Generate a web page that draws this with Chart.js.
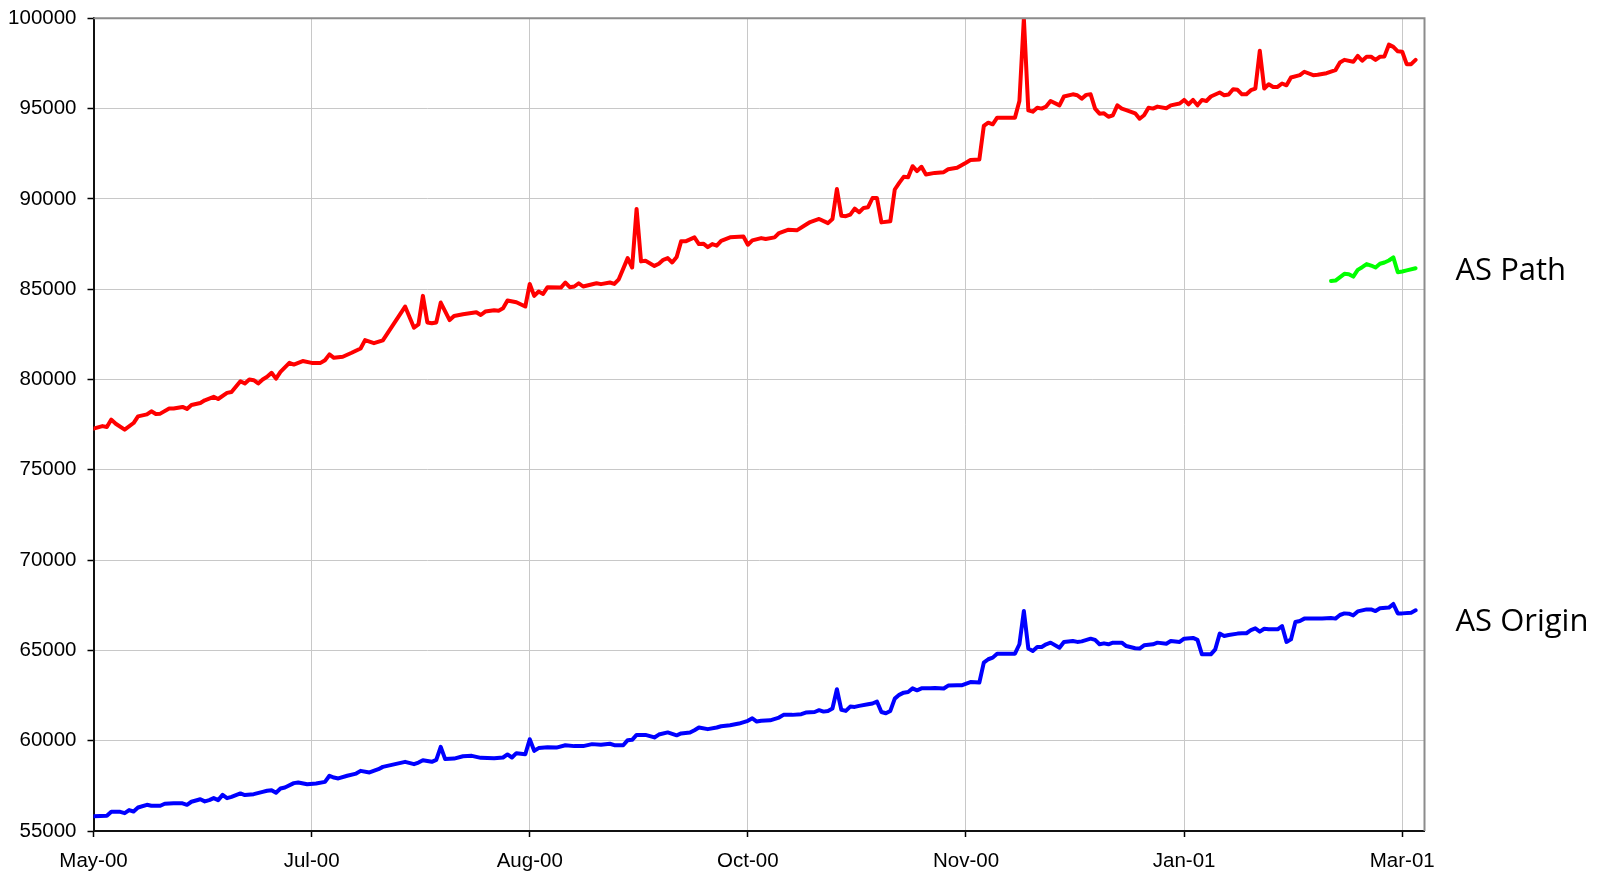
<!DOCTYPE html>
<html>
<head>
<meta charset="utf-8">
<title>AS Path / AS Origin</title>
<script src="https://cdn.jsdelivr.net/npm/chart.js@4.4.1/dist/chart.umd.min.js"></script>
<style>
  html, body { margin: 0; padding: 0; background: #fff; }
  #chart { display: block; }
</style>
</head>
<body>
<canvas id="chart" width="1602" height="873"></canvas>
<script>
// ----------------- axis ticks -----------------
const tickDays = [0, 49, 98, 147, 196, 245, 294];
const tickLabels = ['May-00', 'Jul-00', 'Aug-00', 'Oct-00', 'Nov-00', 'Jan-01', 'Mar-01'];
const lastDay = 299;

// ----------------- red series -----------------
const redDays = [
  0, 2, 3, 4, 5, 7, 9, 10, 12, 13, 14, 15, 17, 18, 20, 21, 22, 24, 25, 27,
  28, 30, 31, 33, 34, 35, 36, 37, 38, 39, 40, 41, 42, 44, 45, 47, 49, 51, 52, 53,
  54, 56, 58, 60, 61, 63, 65, 70, 72, 73, 74, 75, 76, 77, 78, 80, 81, 83, 86, 87,
  88, 90, 91, 92, 93, 95, 97, 98, 99, 100, 101, 102, 105, 106, 107, 108, 109, 110, 113, 114,
  116, 117, 118, 120, 121, 122, 123, 124, 126, 127, 128, 129, 130, 131, 132, 133, 135, 136, 137, 138,
  139, 140, 141, 143, 146, 147, 148, 150, 151, 153, 154, 156, 158, 160, 161, 163, 165, 166, 167, 168,
  169, 170, 171, 172, 173, 174, 175, 176, 177, 179, 180, 181, 182, 183, 184, 185, 186, 187, 189, 191,
  192, 194, 196, 197, 199, 200, 201, 202, 203, 207, 208, 209, 210, 211, 212, 213, 214, 215, 217, 218,
  220, 221, 222, 223, 224, 225, 226, 227, 228, 229, 230, 231, 232, 234, 235, 236, 237, 238, 239, 241,
  242, 244, 245, 246, 247, 248, 249, 250, 251, 253, 254, 255, 256, 257, 258, 259, 260, 261, 262, 263,
  264, 265, 266, 267, 268, 269, 271, 272, 274, 275, 277, 278, 279, 280, 281, 283, 284, 285, 286, 287,
  288, 289, 290, 291, 292, 293, 294, 295, 296, 297
];
const redValues = [
  77280, 77420, 77370, 77780, 77550, 77220, 77590, 77960, 78070, 78240, 78090, 78110, 78390, 78390, 78480, 78370, 78590, 78700, 78850, 79040,
  78920, 79260, 79310, 79900, 79780, 80000, 79960, 79780, 80000, 80150, 80370, 80050, 80420, 80920, 80830, 81020, 80920, 80920, 81070, 81390,
  81200, 81260, 81480, 81720, 82180, 82010, 82170, 84040, 82870, 83050, 84630, 83160, 83110, 83160, 84260, 83290, 83520, 83610, 83720, 83570,
  83760, 83830, 83810, 83940, 84370, 84280, 84040, 85290, 84630, 84870, 84740, 85110, 85090, 85370, 85110, 85150, 85330, 85150, 85330, 85280,
  85370, 85290, 85550, 86720, 86200, 89440, 86540, 86570, 86290, 86410, 86630, 86720, 86480, 86780, 87650, 87650, 87870, 87500, 87520, 87330,
  87500, 87410, 87680, 87870, 87920, 87460, 87700, 87830, 87780, 87870, 88110, 88290, 88260, 88570, 88720, 88890, 88660, 88890, 90550, 89070,
  89040, 89130, 89460, 89260, 89500, 89540, 90050, 90050, 88700, 88760, 90520, 90890, 91220, 91200, 91810, 91540, 91780, 91350, 91440, 91480,
  91640, 91720, 92000, 92150, 92180, 94040, 94220, 94130, 94500, 94500, 95420, 100000, 94900, 94830, 95050, 95000, 95110, 95420, 95180, 95670,
  95790, 95740, 95550, 95760, 95790, 95000, 94720, 94740, 94550, 94630, 95180, 95000, 94920, 94740, 94440, 94630, 95050, 95000, 95110, 95020,
  95180, 95280, 95480, 95240, 95480, 95180, 95480, 95420, 95670, 95890, 95740, 95780, 96070, 96040, 95790, 95790, 96020, 96110, 98200, 96110,
  96350, 96200, 96200, 96390, 96290, 96720, 96850, 97040, 96850, 96870, 96960, 97050, 97130, 97550, 97700, 97590, 97920, 97650, 97870, 97870,
  97700, 97870, 97890, 98540, 98420, 98170, 98150, 97460, 97460, 97700
];

// ----------------- AS Path (green) -----------------
const pathDays = [278, 279, 281, 282, 283, 284, 285, 286, 287, 288, 289, 290, 291, 292, 293, 294, 295, 297];
const pathValues = [
  85460, 85480, 85850, 85830, 85700, 86070, 86220, 86390, 86310, 86200, 86410, 86480, 86590, 86760, 85940, 85980, 86040, 86160
];

// ----------------- AS Origin (blue) -----------------
const originDays = [
  0, 3, 4, 6, 7, 8, 9, 10, 12, 13, 15, 16, 18, 20, 21, 22, 24, 25, 26, 27,
  28, 29, 30, 31, 33, 34, 36, 38, 39, 40, 41, 42, 43, 45, 46, 48, 50, 52, 53, 54,
  55, 57, 59, 60, 62, 64, 65, 67, 69, 70, 72, 73, 74, 75, 76, 77, 78, 79, 81, 83,
  85, 87, 90, 92, 93, 94, 95, 97, 98, 99, 100, 102, 104, 106, 108, 110, 112, 114, 116, 117,
  119, 120, 121, 122, 123, 124, 126, 127, 129, 131, 132, 134, 135, 136, 138, 140, 141, 143, 145, 147,
  148, 149, 150, 152, 154, 155, 157, 159, 160, 162, 163, 164, 165, 166, 167, 168, 169, 170, 171, 172,
  174, 175, 176, 177, 178, 179, 180, 181, 182, 183, 184, 185, 186, 188, 189, 191, 192, 194, 195, 197,
  199, 200, 201, 202, 203, 207, 208, 209, 210, 211, 212, 213, 214, 215, 217, 218, 220, 221, 222, 224,
  225, 226, 227, 228, 229, 231, 232, 234, 235, 236, 238, 239, 241, 242, 244, 245, 247, 248, 249, 251,
  252, 253, 254, 255, 257, 258, 259, 260, 261, 262, 263, 264, 266, 267, 268, 269, 270, 271, 272, 276,
  278, 279, 280, 281, 282, 283, 284, 286, 287, 288, 289, 291, 292, 293, 294, 296, 297
];
const originValues = [
  55810, 55840, 56060, 56060, 55990, 56160, 56080, 56300, 56450, 56400, 56400, 56510, 56530, 56530, 56450, 56620, 56760, 56640, 56710, 56820,
  56710, 57000, 56820, 56890, 57080, 56990, 57040, 57170, 57230, 57260, 57120, 57350, 57410, 57650, 57690, 57590, 57630, 57720, 58060, 57960,
  57910, 58060, 58180, 58330, 58240, 58420, 58550, 58660, 58770, 58830, 58700, 58790, 58920, 58880, 58830, 58940, 59660, 58980, 59010, 59140,
  59160, 59050, 59030, 59070, 59240, 59070, 59310, 59250, 60080, 59440, 59590, 59640, 59620, 59750, 59700, 59700, 59810, 59770, 59830, 59750,
  59750, 60030, 60050, 60320, 60320, 60320, 60180, 60340, 60460, 60300, 60400, 60450, 60580, 60730, 60640, 60730, 60800, 60860, 60950, 61100,
  61240, 61060, 61100, 61130, 61280, 61430, 61430, 61470, 61560, 61590, 61690, 61610, 61650, 61780, 62850, 61710, 61650, 61890, 61870, 61930,
  62020, 62060, 62170, 61590, 61520, 61650, 62330, 62540, 62660, 62700, 62900, 62790, 62900, 62900, 62920, 62890, 63050, 63070, 63070, 63250,
  63220, 64320, 64510, 64600, 64820, 64820, 65340, 67180, 65100, 64970, 65190, 65190, 65340, 65430, 65150, 65470, 65520, 65470, 65500, 65650,
  65580, 65340, 65390, 65340, 65430, 65430, 65240, 65120, 65100, 65280, 65340, 65430, 65370, 65520, 65470, 65650, 65690, 65580, 64780, 64780,
  65060, 65930, 65800, 65850, 65930, 65950, 65950, 66120, 66220, 66040, 66200, 66170, 66170, 66350, 65470, 65610, 66570, 66630, 66760, 66760,
  66790, 66760, 66960, 67050, 67030, 66940, 67160, 67270, 67270, 67180, 67330, 67370, 67570, 67050, 67050, 67090, 67220
];

function points(days, values) {
  return days.map((d, i) => ({ x: d, y: values[i] }));
}

// ----------------- frame + side labels -----------------
const framePlugin = {
  id: 'frame',
  afterDraw(chart) {
    const { ctx, chartArea } = chart;
    const y = chart.scales.y;
    ctx.save();
    // top and right edges of the plot box
    ctx.strokeStyle = '#8c8c8c';
    ctx.lineWidth = 2;
    ctx.beginPath();
    ctx.moveTo(chartArea.left, chartArea.top);
    ctx.lineTo(chartArea.right, chartArea.top);
    ctx.lineTo(chartArea.right, chartArea.bottom);
    ctx.stroke();
    // series names
    ctx.fillStyle = '#000';
    ctx.font = '31px "Open Sans"';
    ctx.textAlign = 'left';
    ctx.textBaseline = 'alphabetic';
    ctx.fillText('AS Path', chartArea.right + 31, y.getPixelForValue(85500));
    ctx.fillText('AS Origin', chartArea.right + 31, y.getPixelForValue(66070));
    ctx.restore();
  }
};

const axisFont = { family: '"Liberation Sans", Arial, sans-serif', size: 20.5 };

new Chart(document.getElementById('chart'), {
  type: 'line',
  data: {
    datasets: [
      { label: 'red', data: points(redDays, redValues), borderColor: '#ff0000' },
      { label: 'AS Origin', data: points(originDays, originValues), borderColor: '#0000ff' },
      { label: 'AS Path', data: points(pathDays, pathValues), borderColor: '#00ff00' }
    ]
  },
  options: {
    responsive: false,
    devicePixelRatio: 1,
    animation: false,
    datasets: {
      line: {
        borderWidth: 4, pointRadius: 0, tension: 0, fill: false,
        borderJoinStyle: 'round', borderCapStyle: 'round'
      }
    },
    layout: { padding: { left: 0, right: 177.5, top: 18.3, bottom: 0 } },
    plugins: { legend: { display: false }, tooltip: { enabled: false } },
    scales: {
      x: {
        type: 'linear',
        min: 0,
        max: lastDay,
        afterBuildTicks: s => { s.ticks = tickDays.map(v => ({ value: v })); },
        afterFit: s => { s.height = 42; s.paddingLeft = 0; s.paddingRight = 0; },
        ticks: {
          callback: v => tickLabels[tickDays.indexOf(v)],
          font: axisFont, color: '#000', padding: 12,
          maxRotation: 0, autoSkip: false
        },
        grid: { color: '#c8c8c8', lineWidth: 1, tickColor: '#000', tickLength: 6, tickWidth: 1.5 },
        border: { color: '#111', width: 2 }
      },
      y: {
        min: 55000,
        max: 100000,
        afterFit: s => { s.width = 93.5; s.paddingTop = 0; s.paddingBottom = 0; },
        ticks: {
          stepSize: 5000, font: axisFont, color: '#000', padding: 11,
          callback: v => String(v)
        },
        grid: { color: '#c8c8c8', lineWidth: 1, tickColor: '#000', tickLength: 6, tickWidth: 1.5 },
        border: { color: '#111', width: 2 }
      }
    }
  },
  plugins: [framePlugin]
});
</script>
</body>
</html>
